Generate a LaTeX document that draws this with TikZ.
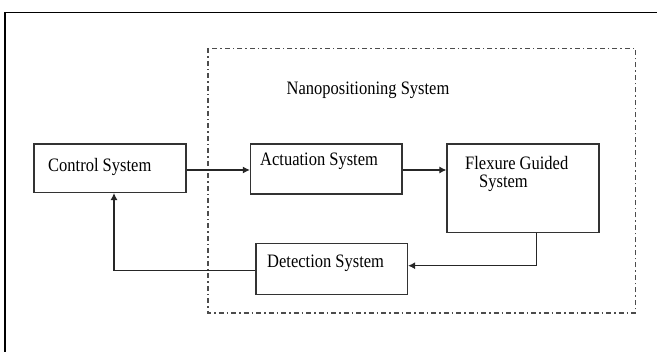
\documentclass[tikz,border=0pt]{standalone}
\usepackage{fontspec}
\setmainfont{Liberation Serif}
\usetikzlibrary{positioning, calc, arrows.meta}

\begin{document}
\begin{tikzpicture}[x=1pt, y=-1pt,
            block/.style={draw=black!80, line width=1.2pt, fill=white, inner sep=0pt},
            txt/.style={inner sep=0pt, font=\fontsize{16.5}{18}\selectfont},
            link/.style={-{Latex[length=7pt, width=7pt]}, line width=1.1pt, black!85},
            frame/.style={draw=black!70, line width=1.1pt, dash pattern=on 5pt off 3pt on 1.5pt off 3pt}
        ]
            \useasboundingbox (0,0) rectangle (657,352);

            % --- outer frame ---
            \draw[line width=1.5pt] (5,352) -- (5,12.5) -- (657,12.5);

            % --- nanopositioning boundary ---
            \draw[frame] (208,48.5) rectangle (635.5,313);
            \node[txt] (nanotxt) at (368,90) {\scalebox{1}[1.15]{Nanopositioning System}};

            % --- blocks ---
            \node[block, minimum width=152pt, minimum height=48.5pt] (control) at (110,168.2) {};
            \node[block, minimum width=151.5pt, minimum height=50pt] (actuation) at (326.2,169) {};
            \node[block, minimum width=152pt, minimum height=88.5pt] (flexure) at (523,188.3) {};
            \node[block, minimum width=151.5pt, minimum height=50.5pt] (detection) at (331.8,269) {};

            % --- labels ---
            \node[txt, anchor=west] (controltxt) at (48,167) {\scalebox{1}[1.15]{Control System}};
            \node[txt, anchor=west] (actuationtxt) at (260,161) {\scalebox{1}[1.15]{Actuation System}};
            \node[txt, anchor=west] (flexuretxt) at (465,163) {\scalebox{1}[1.15]{Flexure Guided}};
            \node[txt, anchor=west] (flexuretxtb) at (479,183) {\scalebox{1}[1.15]{System}};
            \node[txt, anchor=west] (detectiontxt) at (267,263) {\scalebox{1}[1.15]{Detection System}};

            % --- forward path ---
            \draw[link] (control.east |- 0,170) -- (actuation.west |- 0,170);
            \draw[link] (actuation.east |- 0,170) -- (flexure.west |- 0,170);

            % --- feedback path ---
            \draw[link] (flexure.south -| 536.6,0) |- (detection.east |- 0,265.7);
            \draw[link] (detection.west |- 0,270.7) -| (control.south -| 114,0);
        \end{tikzpicture}
\end{document}
